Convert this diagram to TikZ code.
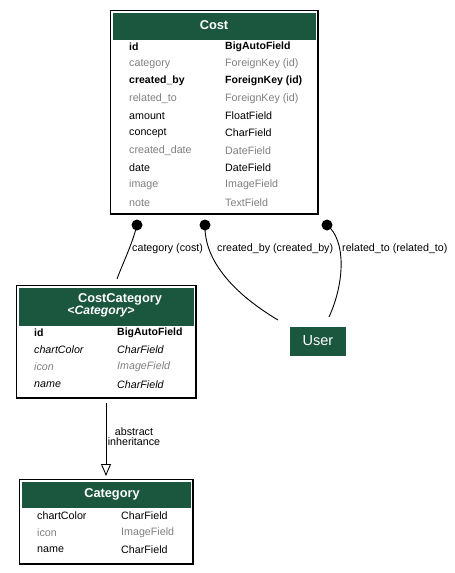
\documentclass[tikz,border=0pt]{standalone}
\usepackage{fontspec}
\setmainfont{Liberation Sans}
\usetikzlibrary{arrows.meta}
\definecolor{hdrgreen}{RGB}{27,86,63}
\definecolor{muted}{RGB}{128,128,128}
\begin{document}
\begin{tikzpicture}[x=1pt,y=-1pt,
  frame/.style={draw=black,line width=1.1pt,fill=white},
  hdrbar/.style={fill=hdrgreen,draw=none},
  hdrtext/.style={text=white,font=\fontsize{12.8}{14}\selectfont\bfseries,inner sep=0pt},
  fld/.style={anchor=west,inner sep=0pt,font=\fontsize{10.7}{12}\selectfont},
  fldb/.style={fld,font=\fontsize{10.5}{12}\selectfont\bfseries},
  fldg/.style={fld,text=muted},
  fldi/.style={fld,font=\fontsize{10.7}{12}\selectfont\itshape},
  fldgi/.style={fldi,text=muted},
  elabel/.style={inner sep=0pt,font=\fontsize{10.7}{12}\selectfont},
  fkdot/.style={circle,fill=black,inner sep=0pt,minimum size=11pt},
  link/.style={draw=black,line width=0.9pt}
]
\useasboundingbox (0,0) rectangle (455,573);

% ---- Cost ----
\draw[frame] (110.5,10.5) rectangle (318,214);
\fill[hdrbar] (113,13) rectangle (315.5,40);
\node[hdrtext] (costhdr) at (214,25) {Cost};
\node[fldb] (c1a) at (129,47) {id};            \node[fldb] (c1b) at (225,47) {BigAutoField};
\node[fldg] (c2a) at (129,64) {category};      \node[fldg] (c2b) at (225,64) {ForeignKey (id)};
\node[fldb] (c3a) at (129,81) {created\_by};   \node[fldb] (c3b) at (225,81) {ForeignKey (id)};
\node[fldg] (c4a) at (129,99) {related\_to};   \node[fldg] (c4b) at (225,99) {ForeignKey (id)};
\node[fld]  (c5a) at (129,116) {amount};       \node[fld]  (c5b) at (225,116) {FloatField};
\node[fld]  (c6a) at (129,133) {concept};      \node[fld]  (c6b) at (225,133) {CharField};
\node[fldg] (c7a) at (129,151) {created\_date};\node[fldg] (c7b) at (225,151) {DateField};
\node[fld]  (c8a) at (129,168) {date};         \node[fld]  (c8b) at (225,168) {DateField};
\node[fldg] (c9a) at (129,185) {image};        \node[fldg] (c9b) at (225,185) {ImageField};
\node[fldg] (c10a) at (129,203) {note};        \node[fldg] (c10b) at (225,203) {TextField};

% ---- CostCategory ----
\draw[frame] (16.5,285.5) rectangle (196,398);
\fill[hdrbar] (19,288) rectangle (193.5,326);
\node[hdrtext] (cchdr) at (120,299) {CostCategory};
\node[hdrtext,font=\fontsize{12.2}{14}\selectfont\bfseries\itshape] (ccsub) at (101,312) {<Category>};
\node[fldb]  (k1a) at (34,333) {id};          \node[fldb]  (k1b) at (117,333) {BigAutoField};
\node[fldi]  (k2a) at (34,350) {chartColor};  \node[fldi]  (k2b) at (117,350) {CharField};
\node[fldgi] (k3a) at (34,367) {icon};        \node[fldgi] (k3b) at (117,367) {ImageField};
\node[fldi]  (k4a) at (34,385) {name};        \node[fldi]  (k4b) at (117,385) {CharField};

% ---- Category ----
\draw[frame] (19.5,479.5) rectangle (193,564);
\fill[hdrbar] (22,482) rectangle (190.5,508);
\node[hdrtext] (cathdr) at (112,494) {Category};
\node[fld]  (g1a) at (37,516) {chartColor};   \node[fld]  (g1b) at (121,516) {CharField};
\node[fldg] (g2a) at (37,533) {icon};         \node[fldg] (g2b) at (121,533) {ImageField};
\node[fld]  (g3a) at (37,550) {name};         \node[fld]  (g3b) at (121,550) {CharField};

% ---- User ----
\node[fill=hdrgreen,text=white,minimum width=56pt,minimum height=29pt,inner sep=0pt,
      font=\fontsize{14.5}{16}\selectfont] (user) at (318,341) {User};

% ---- foreign key links ----
\node[fkdot] (dcat) at (137,225) {};
\node[fkdot] (dcre) at (205,225) {};
\node[fkdot] (drel) at (327,225) {};
\coordinate (ecat) at (117,279);
\coordinate (ecre) at (278,320);
\coordinate (erel) at (329,317);
\draw[link] (dcat.center) .. controls (132,245) and (122,265) .. (ecat);
\draw[link] (dcre.center) .. controls (204,262) and (236,295) .. (ecre);
\draw[link] (drel.center) .. controls (346,240) and (345,282) .. (erel);
\node[elabel,anchor=west] (lcat) at (132,249) {category (cost)};
\node[elabel,anchor=west] (lcre) at (217,249) {created\_by (created\_by)};
\node[elabel,anchor=west] (lrel) at (342,249) {related\_to (related\_to)};

% ---- inheritance ----
\coordinate (inhtop) at (106,403);
\coordinate (inhtip) at (106,476);
\draw[link,-{Triangle[open,length=12pt,width=10pt]}] (inhtop) -- (inhtip);
\node[elabel,align=center] (inhlbl) at (134,437) {abstract\\[-2pt]inheritance};
\end{tikzpicture}
\end{document}
